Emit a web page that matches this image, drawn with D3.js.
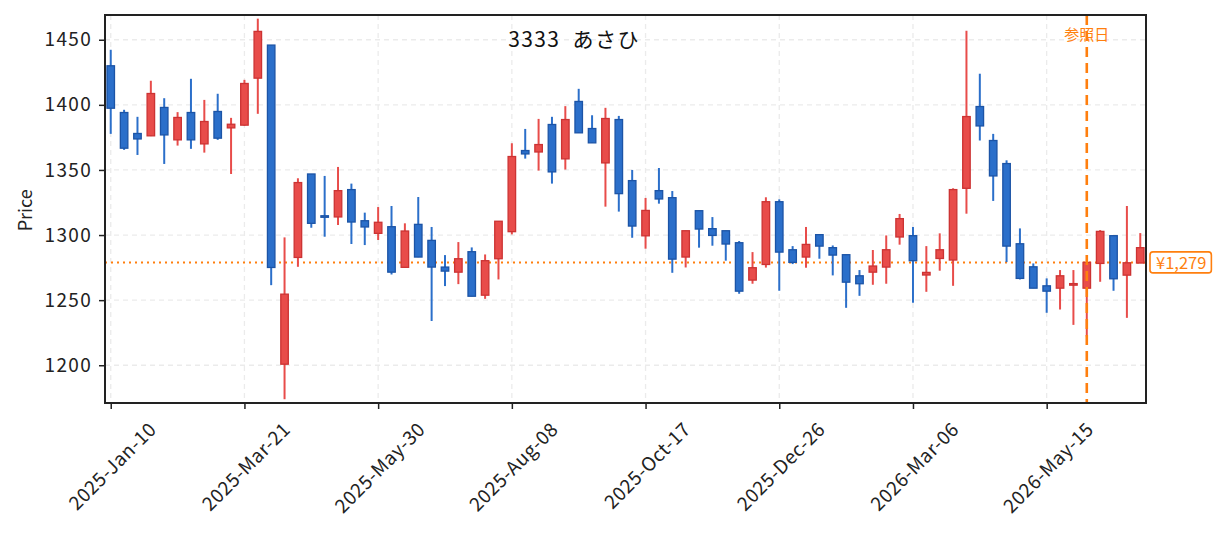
<!DOCTYPE html>
<html>
<head>
<meta charset="utf-8">
<script src="https://cdn.jsdelivr.net/npm/d3@7"></script>
<style>
  body { margin: 0; background: #fff; }
  svg { font-family: "Noto Sans CJK JP", "Noto Sans", sans-serif; }
</style>
</head>
<body>
<div id="chart"></div>
<script>
// weekly candles, 3333 あさひ
var firstWeek = "2025-01-10";
var opens = [1430, 1394.1, 1378, 1376.2, 1398, 1373.1, 1394.1, 1370, 1394.9, 1382.3,
  1384.4, 1420.5, 1445.9, 1200.8, 1282.8, 1346.9, 1314.8, 1313.9, 1334.9, 1311,
  1301.3, 1306.4, 1275.2, 1308.2, 1295.9, 1275.4, 1271.5, 1287.2, 1253.8, 1281.8,
  1302.6, 1364.9, 1363.8, 1384.9, 1358.5, 1402.6, 1381.8, 1355.4, 1388.7, 1341.8,
  1299.4, 1334.1, 1328.7, 1283.1, 1318.7, 1304.9, 1303.3, 1294.1, 1265.4, 1277.4,
  1325.6, 1288.7, 1283.1, 1300.3, 1290.3, 1284.9, 1268.7, 1271.5, 1275.4, 1298.5,
  1299.5, 1269.3, 1282, 1280.8, 1335.9, 1398.7, 1372.6, 1354.9, 1293.3, 1275.6,
  1261, 1259.2, 1261.5, 1259.2, 1278.2, 1299.5, 1269.2, 1278.5];
var highs = [1442.3, 1396.2, 1390.8, 1418.5, 1405.1, 1394.4, 1420, 1403.8, 1408.5, 1390,
  1419.2, 1466.2, 1445.9, 1298.2, 1343.6, 1346.9, 1345.4, 1352.3, 1339.5, 1317.2,
  1321.5, 1322.3, 1309, 1329.2, 1306.2, 1284.6, 1294.6, 1290.5, 1285.1, 1310.6,
  1370.5, 1381.5, 1389.2, 1390.8, 1399, 1412.3, 1392, 1397.7, 1391.5, 1350,
  1328.5, 1351.5, 1333.8, 1303.3, 1318.7, 1313.8, 1303.3, 1295.4, 1286.9, 1329,
  1327.4, 1291.5, 1306.2, 1300.3, 1292, 1284.9, 1273.1, 1288.5, 1299.7, 1316.2,
  1306.2, 1291.5, 1301.3, 1335.9, 1456.9, 1423.9, 1377.7, 1357.4, 1305.1, 1278.2,
  1266.7, 1273.1, 1273.1, 1278.7, 1303.8, 1299.5, 1322.3, 1301.5];
var lows = [1377.7, 1365.4, 1361.5, 1376, 1354.6, 1368.7, 1366.2, 1363.3, 1373.1, 1346.9,
  1384, 1393.1, 1261.5, 1173.9, 1275.6, 1305.6, 1298.7, 1307.7, 1293.1, 1292.3,
  1296.2, 1269.7, 1275, 1283, 1234, 1260.8, 1262.3, 1253, 1251, 1265.9,
  1300.5, 1358.7, 1349.5, 1339.5, 1350.3, 1378.5, 1370.8, 1321.8, 1318, 1297.9,
  1289.5, 1324.1, 1271, 1275.1, 1290.3, 1291.8, 1280.3, 1254.9, 1262.6, 1275,
  1257.2, 1277.7, 1274.9, 1281.8, 1269, 1244.1, 1253.3, 1261.8, 1262.6, 1292.6,
  1248, 1256.4, 1272.6, 1261, 1316.4, 1372.6, 1326.2, 1279.2, 1265.9, 1259.2,
  1240.3, 1242.8, 1231, 1222, 1264.1, 1257.2, 1236.4, 1278.5];
var closes = [1397.4, 1366.7, 1373.8, 1408.7, 1376.9, 1390.3, 1373.1, 1387.2, 1374.4, 1385.1,
  1416.4, 1456.4, 1275.1, 1254.6, 1340.3, 1309, 1314, 1334.1, 1310, 1306.2,
  1309.8, 1271.5, 1303.1, 1283.1, 1275.4, 1272.3, 1281.8, 1253, 1280.3, 1310.6,
  1360.3, 1362.3, 1369.5, 1348.5, 1388.7, 1378.5, 1370.8, 1389.5, 1331.8, 1306.9,
  1318.9, 1327.7, 1281.5, 1303.3, 1304.6, 1299.7, 1293.1, 1256.9, 1274.9, 1325.6,
  1286.9, 1279, 1292.8, 1291.5, 1284.6, 1263.8, 1262.6, 1276.2, 1288.7, 1312.6,
  1280.3, 1271.3, 1288.7, 1334.9, 1391, 1383.8, 1345.4, 1291.5, 1266.7, 1259.2,
  1256.9, 1268.7, 1262.7, 1279, 1302.8, 1266.4, 1278.7, 1290.3];
var yTicks = [1200, 1250, 1300, 1350, 1400, 1450];
var tickEvery = 10;
var refDate = "2026-06-05";
var refPrice = 1279;
var title = "3333\u00a0\u00a0あさひ";
var refLabel = "参照日";

var W = 1225, H = 533;
var m = {left: 105, top: 15, right: 79, bottom: 130};
var iw = W - m.left - m.right, ih = H - m.top - m.bottom;

var parse = d3.timeParse("%Y-%m-%d");
var start = parse(firstWeek);
var dates = d3.timeFriday.range(start, d3.timeDay.offset(start, 7 * opens.length));
var candles = dates.map(function (d, i) {
  return {date: d, o: opens[i], h: highs[i], l: lows[i], c: closes[i]};
});

var x = d3.scaleTime()
  .domain([d3.timeDay.offset(dates[0], -3), d3.timeDay.offset(dates[dates.length - 1], 3)])
  .range([0, iw]);
var y = d3.scaleLinear().domain([1171, 1469]).range([ih, 0]);

var up = {fill: "#e84c4a", stroke: "#cc3333"};
var down = {fill: "#2b6fca", stroke: "#1c54a6"};
var orange = "#ff7f0e";
var fs = 19;

var svg = d3.select("#chart").append("svg")
  .attr("width", W)
  .attr("height", H);
var g = svg.append("g").attr("transform", "translate(" + m.left + "," + m.top + ")");

var xTickDates = dates.filter(function (d, i) { return i % tickEvery === 0; });

// grid
g.selectAll(".hgrid")
  .data(yTicks)
  .enter()
    .append("line")
      .attr("x1", 0).attr("x2", iw)
      .attr("y1", function (d) { return y(d); })
      .attr("y2", function (d) { return y(d); })
      .attr("stroke", "#ebebeb")
      .attr("stroke-width", 1.3)
      .attr("stroke-dasharray", "5,4");
g.selectAll(".vgrid")
  .data(xTickDates)
  .enter()
    .append("line")
      .attr("y1", 0).attr("y2", ih)
      .attr("x1", function (d) { return x(d); })
      .attr("x2", function (d) { return x(d); })
      .attr("stroke", "#ebebeb")
      .attr("stroke-width", 1.3)
      .attr("stroke-dasharray", "5,4");

// price line
g.append("line")
  .attr("x1", 0).attr("x2", iw)
  .attr("y1", y(refPrice)).attr("y2", y(refPrice))
  .attr("stroke", orange)
  .attr("stroke-width", 2)
  .attr("stroke-dasharray", "2,4");

// candles
var bw = 7.5;
var cg = g.selectAll(".candle")
  .data(candles)
  .enter()
    .append("g")
      .attr("class", "candle");
cg.append("line")
  .attr("x1", function (d) { return x(d.date); })
  .attr("x2", function (d) { return x(d.date); })
  .attr("y1", function (d) { return y(d.h); })
  .attr("y2", function (d) { return y(d.l); })
  .attr("stroke", function (d) { return d.c >= d.o ? up.fill : down.fill; })
  .attr("stroke-width", 2);
cg.append("rect")
  .attr("x", function (d) { return x(d.date) - bw / 2; })
  .attr("y", function (d) { return y(Math.max(d.o, d.c)); })
  .attr("width", bw)
  .attr("height", function (d) { return Math.max(1.5, Math.abs(y(d.o) - y(d.c))); })
  .attr("fill", function (d) { return d.c >= d.o ? up.fill : down.fill; })
  .attr("stroke", function (d) { return d.c >= d.o ? up.stroke : down.stroke; })
  .attr("stroke-width", 1.3);

// reference date
var rx = x(parse(refDate));
g.append("line")
  .attr("x1", rx).attr("x2", rx)
  .attr("y1", 0).attr("y2", ih)
  .attr("stroke", orange)
  .attr("stroke-width", 2.6)
  .attr("stroke-dasharray", "10,6");
g.append("text")
  .attr("x", rx)
  .attr("y", 25)
  .attr("text-anchor", "middle")
  .attr("fill", orange)
  .attr("font-size", 15)
  .text(refLabel);

// title
svg.append("text")
  .attr("x", 574)
  .attr("y", 47)
  .attr("text-anchor", "middle")
  .attr("fill", "#111")
  .attr("font-size", 21)
  .attr("letter-spacing", "1.4px")
  .text(title);

// frame
g.append("rect")
  .attr("width", iw).attr("height", ih)
  .attr("fill", "none")
  .attr("stroke", "#222")
  .attr("stroke-width", 2);

// y axis
var yAxis = g.append("g")
  .call(d3.axisLeft(y).tickValues(yTicks).tickSize(6).tickPadding(7).tickFormat(d3.format("d")));
yAxis.select(".domain").remove();
yAxis.selectAll("line").attr("stroke", "#222").attr("stroke-width", 1.5);
yAxis.selectAll("text")
  .attr("font-size", fs)
  .attr("fill", "#222")
  .attr("letter-spacing", "1.3px")
  .attr("font-family", "\"Noto Sans CJK JP\", sans-serif");

svg.append("text")
  .attr("transform", "translate(32," + (m.top + y(1319)) + ") rotate(-90)")
  .attr("text-anchor", "middle")
  .attr("font-size", 18)
  .attr("fill", "#222")
  .text("Price");

// x axis
var xAxis = g.append("g")
  .attr("transform", "translate(0," + ih + ")")
  .call(d3.axisBottom(x).tickValues(xTickDates).tickSize(6).tickFormat(d3.timeFormat("%Y-%b-%d")));
xAxis.select(".domain").remove();
xAxis.selectAll("line").attr("stroke", "#222").attr("stroke-width", 1.5);
xAxis.selectAll("text")
  .attr("font-size", fs)
  .attr("font-family", "\"Noto Sans CJK JP\", sans-serif")
  .attr("letter-spacing", "0.5px")
  .attr("fill", "#222")
  .attr("dy", null)
  .attr("y", 0)
  .attr("dominant-baseline", "central")
  .attr("text-anchor", "middle")
  .each(function () {
    var len = this.getComputedTextLength();
    var half = (len * 0.7071 + fs * 0.7071) / 2;
    d3.select(this).attr("transform", "translate(0," + (15 + half) + ") rotate(-45)");
  });

// price label box
var lbl = svg.append("g")
  .attr("transform", "translate(" + (m.left + iw + 4) + "," + (m.top + y(refPrice)) + ")");
var lt = lbl.append("text")
  .attr("x", 6)
  .attr("dominant-baseline", "central")
  .attr("fill", orange)
  .attr("font-size", 16.5)
  .text("¥" + d3.format(",")(refPrice));
var tl = lt.node().getComputedTextLength();
lbl.insert("rect", "text")
  .attr("x", 0)
  .attr("y", -10.5)
  .attr("width", tl + 11)
  .attr("height", 21)
  .attr("rx", 3)
  .attr("fill", "#fff")
  .attr("stroke", orange)
  .attr("stroke-width", 1.6);
</script>
</body>
</html>
